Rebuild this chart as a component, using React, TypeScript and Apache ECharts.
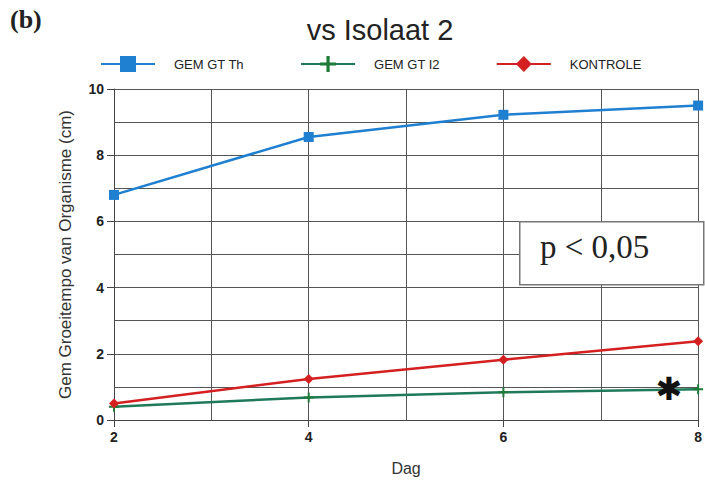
import React, { useEffect, useRef } from "react";
import * as echarts from "echarts";

const days = [2, 4, 6, 8];
const gemGtTh = [6.8, 8.55, 9.22, 9.5];
const gemGtI2 = [0.4, 0.68, 0.84, 0.93];
const kontrole = [0.5, 1.24, 1.82, 2.38];
const seriesNames = ["GEM GT Th", "GEM GT I2", "KONTROLE"];
const starPoint = [7.7, 0.93];

const plusPath = "path://M4,0H6V4H10V6H6V10H4V6H0V4H4Z";

export default function App() {
  const ref = useRef<HTMLDivElement>(null);
  useEffect(() => {
    if (!ref.current) return;
    const chart = echarts.init(ref.current, undefined, { renderer: "svg" });
    const pair = (ys: number[]) => days.map((d, i) => [d, ys[i]]);
    const axisText = { color: "#222", fontFamily: "Liberation Sans, Arial", fontSize: 14, fontWeight: "bold" as const };
    chart.setOption({
      animation: false,
      backgroundColor: "#fff",
      title: {
        text: "vs Isolaat 2",
        left: 375,
        top: 10,
        textAlign: "center",
        textStyle: { fontFamily: "Liberation Sans, Arial", fontSize: 29, fontWeight: "normal", color: "#222" },
      },
      legend: {
        top: 51,
        left: 95,
        itemWidth: 54,
        itemHeight: 20,
        itemGap: 56,
        data: seriesNames,
        textStyle: {
          fontFamily: "Liberation Sans Narrow, Liberation Sans, Arial",
          fontSize: 13,
          color: "#222",
          padding: [0, 0, 0, 14],
        },
      },
      grid: { left: 114, right: 3, top: 89, bottom: 63 },
      xAxis: {
        type: "value",
        min: 2,
        max: 8,
        interval: 2,
        name: "Dag",
        nameLocation: "middle",
        nameGap: 40,
        nameTextStyle: { fontFamily: "Liberation Sans, Arial", fontSize: 16, color: "#333" },
        axisLine: { show: true, lineStyle: { color: "#444", width: 1 } },
        axisTick: { show: true, length: 7, lineStyle: { color: "#444" } },
        axisLabel: { ...axisText, margin: 10 },
        splitLine: { show: true, lineStyle: { color: "#555", width: 1 } },
        minorTick: { show: false, splitNumber: 2 },
        minorSplitLine: { show: true, lineStyle: { color: "#555", width: 1 } },
      },
      yAxis: {
        type: "value",
        min: 0,
        max: 10,
        interval: 2,
        name: "Gem Groeitempo van Organisme (cm)",
        nameLocation: "middle",
        nameGap: 40,
        nameTextStyle: { fontFamily: "Liberation Sans, Arial", fontSize: 17, color: "#333" },
        axisLine: { show: true, lineStyle: { color: "#444", width: 1 } },
        axisTick: { show: true, length: 7, lineStyle: { color: "#444" } },
        axisLabel: { ...axisText, margin: 10 },
        splitLine: { show: true, lineStyle: { color: "#555", width: 1 } },
        minorTick: { show: false, splitNumber: 2 },
        minorSplitLine: { show: true, lineStyle: { color: "#555", width: 1 } },
      },
      series: [
        {
          name: seriesNames[0],
          type: "line",
          data: pair(gemGtTh),
          symbol: "rect",
          symbolSize: 10,
          lineStyle: { color: "#1f7fd0", width: 2.5 },
          itemStyle: { color: "#1f7fd0" },
        },
        {
          name: seriesNames[1],
          type: "line",
          data: pair(gemGtI2),
          symbol: plusPath,
          symbolSize: 10,
          lineStyle: { color: "#1f7a5a", width: 2.5 },
          itemStyle: { color: "#1f7a3a" },
          markPoint: {
            symbol: "circle",
            symbolSize: 1,
            itemStyle: { color: "transparent" },
            label: {
              show: true,
              formatter: "✱",
              color: "#111",
              fontSize: 32,
              fontFamily: "DejaVu Sans",
              fontWeight: "bold",
              position: "inside",
            },
            data: [{ coord: starPoint }],
          },
        },
        {
          name: seriesNames[2],
          type: "line",
          data: pair(kontrole),
          symbol: "diamond",
          symbolSize: 10,
          lineStyle: { color: "#d42020", width: 2.5 },
          itemStyle: { color: "#d42020" },
        },
      ],
      graphic: [
        {
          type: "text",
          left: 10,
          top: 6,
          style: { text: "(b)", fontFamily: "Liberation Serif, Times New Roman", fontSize: 26, fontWeight: "bold", fill: "#222" },
        },
        {
          type: "rect",
          left: 519,
          top: 221,
          shape: { width: 184, height: 63 },
          style: { fill: "#fff", stroke: "#777", lineWidth: 1.5 },
          z: 100,
        },
        {
          type: "text",
          left: 540,
          top: 230,
          style: { text: "p < 0,05", fontFamily: "Liberation Serif, Times New Roman", fontSize: 33, fill: "#222" },
          z: 101,
        },
      ],
    });
    return () => chart.dispose();
  }, []);
  return <div ref={ref} style={{ width: 705, height: 483, position: "absolute", left: 0, top: 0 }} />;
}
